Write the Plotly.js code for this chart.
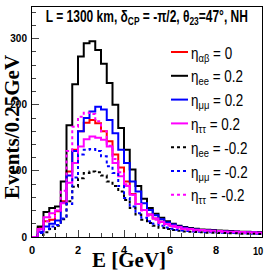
<!DOCTYPE html>
<html><head><meta charset="utf-8">
<script src="https://cdn.plot.ly/plotly-3.0.1.min.js"></script>
<style>html,body{margin:0;padding:0;background:#fff}#c{width:266px;height:273px}</style>
</head><body><div id="c"></div>
<script>
// Bin edges (GeV), 0.25 GeV bins
var edges = [0,0.25,0.5,0.75,1,1.25,1.5,1.75,2,2.25,2.5,2.75,3,3.25,3.5,3.75,4,4.25,4.5,4.75,5,
  5.25,5.5,5.75,6,6.25,6.5,6.75,7,7.25,7.5,7.75,8,8.25,8.5,8.75,9,9.25,9.5,9.75,10];
// Events per bin
var eta0  = [0,14,24,26,39,54,99,132,160,173,177,172,160,145,125,105,84,65,50,41,34,28,23,19.5,17,15,13,12,11,10.5,10,9.5,9,8.5,8,8,7.5,7,7,6.5];
var eeP   = [0,16,38,44,46,84,169,231,273,293,296,283,262,233,200,165,132,102,77,58,44,35,29,24,20,17,15,13.5,12.5,11.5,11,10.5,10,9.5,9,8.5,8,8,7.5,7];
var mmP   = [0,8,16,20,25,52,93,130,160,180,190,197,193,177,157,132,112,84,69,51,41,33,27,22,19,16,14,12.5,11.5,10.5,10,9.5,9,8.5,8,8,7.5,7,7,6.5];
var ttP   = [0,12,30,36,40,51,82,112,137,148,152,150,147,137,112,92,77,64,50,41,34,28,23,19.5,17,15,13,12,11,10.5,10,9.5,9,8.5,8,8,7.5,7,7,6.5];
var eeM   = [0,3,7,12,17,27,54,76,89,97,99,98,93,84,77,69,56,44,34,26,21,17,14,12,10.5,9.5,8.5,8,7.5,7,6.5,6.5,6,6,5.5,5.5,5,5,5,4.5];
var mmM   = [0,6,12,16,18,28,50,90,125,132,133,130,122,107,97,77,59,46,36,29,24,20,17,14.5,12.5,11,10,9,8.5,8,7.5,7,7,6.5,6,6,5.5,5.5,5,5];
var ttM   = [0,10,24,30,40,70,130,167,182,188,186,175,160,138,118,98,80,64,50,40,32,26,21,18,15.5,13.5,12,11,10,9.5,9,8.5,8,7.5,7,7,6.5,6,6,5.5];
var xTickVals = [0,2,4,6,8,10];
var xTickText = ['0','2','4','6','8','10'];

var labels = ['η<sub>αβ</sub> = 0','η<sub>ee</sub> = 0.2','η<sub>μμ</sub> = 0.2','η<sub>ττ</sub> = 0.2',
              'η<sub>ee</sub> = -0.2','η<sub>μμ</sub> = -0.2','η<sub>ττ</sub> = -0.2'];
var series = [eta0, eeP, mmP, ttP, eeM, mmM, ttM];
var colors = ['#ff0000','#000000','#0000ff','#ff00ff','#000000','#0000ff','#ff00ff'];
var dashes = ['solid','solid','solid','solid','dot','dot','dot'];

var traces = series.map(function(v,i){
  return {x: edges, y: v.concat([v[v.length-1]]), type:'scatter', mode:'lines',
    line:{shape:'hv', color:colors[i], width:2, dash:dashes[i]}, name:labels[i], hoverinfo:'skip'};
});

var L=32, T=7, W=230, H=230;
function px(x){return (x-L)/W;}
function py(y){return (T+H-y)/H;}
var sansN = 'Liberation Sans, Arial, sans-serif';
var tickFont = {family:sansN, size:11, color:'#000', weight:'bold'};
var shapes=[], ann=[], squeeze=[];
labels.forEach(function(t,i){
  var yc = 52 + 23.8*i;
  shapes.push({type:'line', xref:'paper', yref:'paper', x0:px(171), x1:px(188), y0:py(yc), y1:py(yc),
    line:{color:colors[i], width:2, dash:dashes[i]}});
  squeeze.push([ann.length, 0.84, 'left center']);
  ann.push({xref:'paper', yref:'paper', x:px(189), y:py(yc+2), xanchor:'left', yanchor:'middle', showarrow:false,
    text:t, font:{family:sansN, size:16, color:'#000'}});
});
squeeze.push([ann.length, 0.75, 'center center']);
ann.push({xref:'paper', yref:'paper', x:px(147), y:py(18), xanchor:'center', yanchor:'middle', showarrow:false,
  text:'L = 1300 km, δ<sub>CP</sub> = -π/2, θ<sub>23</sub>=47°, NH',
  font:{family:sansN, size:16, color:'#000', weight:'bold'}});
ann.push({xref:'paper', yref:'paper', x:px(12), y:py(127), xanchor:'center', yanchor:'middle', showarrow:false, textangle:-90,
  text:'Events/0.25GeV', font:{family:'Liberation Serif, Times New Roman, serif', size:21, color:'#000', weight:'bold'}});
ann.push({xref:'paper', yref:'paper', x:px(129), y:py(273), xanchor:'center', yanchor:'bottom', showarrow:false, borderpad:0,
  text:'E [GeV]', font:{family:'Liberation Serif, Times New Roman, serif', size:21, color:'#000', weight:'bold'}});
// last x tick label, kept inside the canvas (right-aligned near the frame edge)
squeeze.push([ann.length, 0.85, 'right center']);
ann.push({xref:'x', yref:'paper', x:xTickVals[5], xshift:2, y:py(244), xanchor:'right', yanchor:'top', showarrow:false, borderpad:0,
  text:xTickText[5], font:tickFont});

var layout = {
  width:266, height:273, margin:{l:L, r:266-L-W, t:T, b:273-T-H}, showlegend:false,
  paper_bgcolor:'#fff', plot_bgcolor:'#fff',
  xaxis:{range:[0,10], tickvals:xTickVals, ticktext:xTickText.slice(0,5).concat(['']), ticks:'inside', ticklen:7, tickwidth:1,
    minor:{dtick:0.5, ticks:'inside', ticklen:4, tickwidth:1, showgrid:false},
    showline:true, mirror:true, linecolor:'#000', linewidth:1, showgrid:false, zeroline:false,
    tickfont:tickFont, ticklabelstandoff:3},
  yaxis:{range:[0,348], tickvals:[0,100,200,300], ticktext:['0','100','200','300'], ticks:'inside', ticklen:7, tickwidth:1,
    minor:{dtick:20, ticks:'inside', ticklen:4, tickwidth:1, showgrid:false},
    showline:true, mirror:true, linecolor:'#000', linewidth:1, showgrid:false, zeroline:false,
    tickfont:{family:sansN, size:10, color:'#000', weight:'bold'}, ticklabelstandoff:2},
  shapes:shapes, annotations:ann
};
Plotly.newPlot('c', traces, layout, {staticPlot:true, displayModeBar:false}).then(function(){
  squeeze.forEach(function(s){
    var g = document.querySelector('g.annotation[data-index="'+s[0]+'"] text.annotation-text');
    if(g){ g.style.transformBox='fill-box'; g.style.transformOrigin=s[2]; g.style.transform='scaleX('+s[1]+')'; }
  });
});
</script></body></html>
